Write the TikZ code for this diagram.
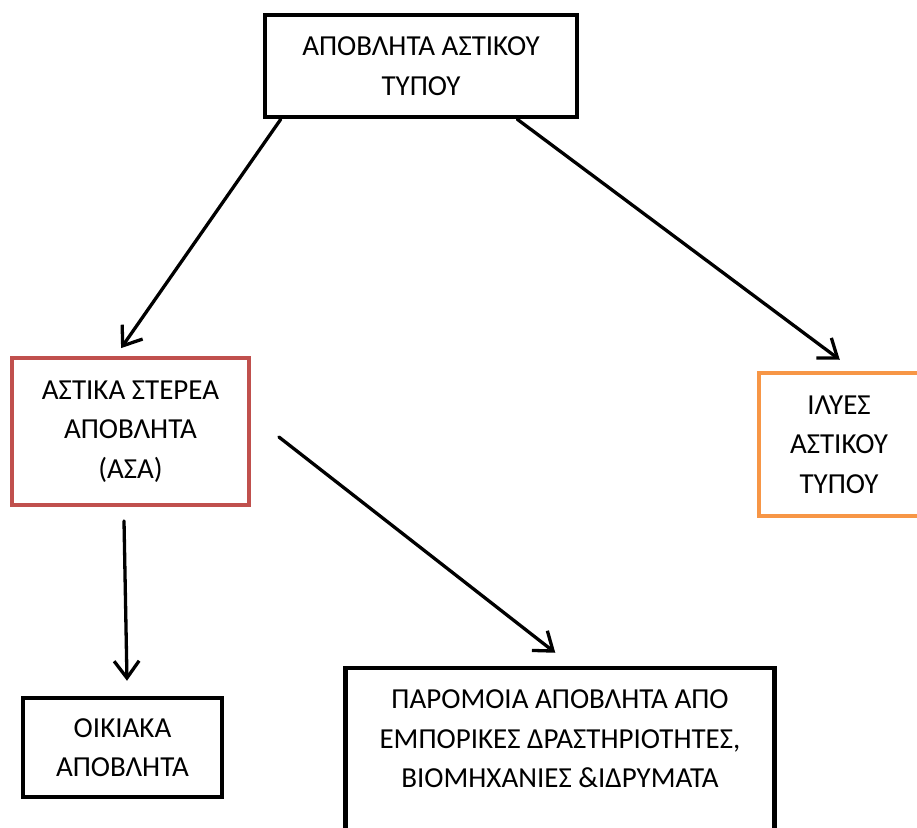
\documentclass[tikz,border=0pt]{standalone}
\usepackage{fontspec}
\setmainfont{Carlito}
\usepackage{tikz}
\usetikzlibrary{arrows.meta,calc,positioning}
\usepackage{xcolor}
\definecolor{rouge}{RGB}{192,80,77}
\definecolor{orange}{RGB}{247,150,70}

\begin{document}
\begin{tikzpicture}[x=1pt,y=-1pt,
  boite/.style={draw,rectangle,line width=4.5pt,inner sep=0pt,align=center,
    font=\fontsize{29}{39.5}\selectfont},
  fleche/.style={line width=3.3pt,line cap=round,line join=round,
    -{Straight Barb[length=17pt,width=25pt,line width=3.3pt]}}]
  \useasboundingbox (0,0) rectangle (917,827);
  % boites
  \node[boite,minimum width=312pt,minimum height=102pt] (top) at (421,66)
    {ΑΠΟΒΛΗΤΑ ΑΣΤΙΚΟΥ\\ΤΥΠΟΥ};
  \node[boite,draw=rouge,line width=3.8pt,minimum width=237pt,minimum height=147pt] (asa) at (130.5,431.5)
    {ΑΣΤΙΚΑ ΣΤΕΡΕΑ\\ΑΠΟΒΛΗΤΑ\\(ΑΣΑ)};
  \node[boite,draw=orange,minimum width=160pt,minimum height=143pt] (ilyes) at (839,444.5)
    {ΙΛΥΕΣ\\ΑΣΤΙΚΟΥ\\ΤΥΠΟΥ};
  \node[boite,minimum width=199pt,minimum height=99pt] (oikiaka) at (122.5,747.5)
    {ΟΙΚΙΑΚΑ\\ΑΠΟΒΛΗΤΑ};
  \node[boite,minimum width=429pt,minimum height=181pt] (paromoia) at (560,758.5)
    {ΠΑΡΟΜΟΙΑ ΑΠΟΒΛΗΤΑ ΑΠΟ\\ΕΜΠΟΡΙΚΕΣ ΔΡΑΣΤΗΡΙΟΤΗΤΕΣ,\\ΒΙΟΜΗΧΑΝΙΕΣ \&ΙΔΡΥΜΑΤΑ\\\mbox{}};
  % fleches
  \draw[fleche] ([xshift=18pt]top.south west) -- ([xshift=111pt,yshift=8pt]asa.north west);
  \draw[fleche] ([xshift=-62pt]top.south east) -- ([xshift=83pt,yshift=11pt]ilyes.north west);
  \draw[fleche] ([xshift=28pt,yshift=-5.5pt]asa.east) -- ([xshift=212pt,yshift=13pt]paromoia.north west);
  \draw[fleche] ([xshift=-6.5pt,yshift=-14pt]asa.south) -- ([xshift=4.5pt,yshift=15pt]oikiaka.north);
\end{tikzpicture}
\end{document}
